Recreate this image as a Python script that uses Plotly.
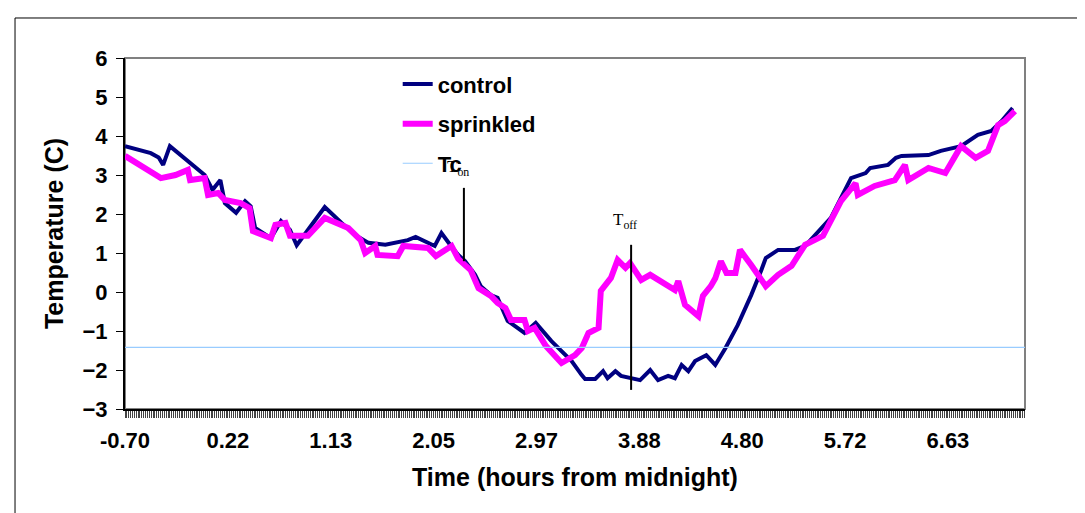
import plotly.graph_objects as go

# ---- data (hours from midnight, temperature C) ----
control_h = [-0.70, -0.58, -0.47, -0.40, -0.36, -0.30, -0.17, -0.08, 0.01, 0.08, 0.15, 0.19, 0.29, 0.37,
             0.42, 0.46, 0.60, 0.69, 0.77, 0.83, 0.93, 1.08, 1.23, 1.35, 1.47, 1.62, 1.82, 1.89, 2.06,
             2.12, 2.20, 2.27, 2.33, 2.42, 2.47, 2.56, 2.62, 2.71, 2.86, 2.96, 3.10, 3.19, 3.28, 3.37,
             3.40, 3.49, 3.56, 3.60, 3.67, 3.72, 3.81, 3.89, 3.98, 4.05, 4.14, 4.20, 4.26, 4.32, 4.38,
             4.48, 4.56, 4.65, 4.76, 4.83, 4.88, 4.97, 5.01, 5.12, 5.27, 5.36, 5.48, 5.59, 5.77, 5.90,
             5.94, 6.10, 6.17, 6.22, 6.46, 6.57, 6.75, 6.90, 7.02, 7.11, 7.21]
control_t = [3.74, 3.64, 3.56, 3.45, 3.26, 3.74, 3.44, 3.23, 3.00, 2.62, 2.87, 2.28, 2.03, 2.33,
             2.20, 1.64, 1.38, 1.82, 1.59, 1.20, 1.59, 2.18, 1.77, 1.46, 1.26, 1.21, 1.33, 1.41, 1.18,
             1.51, 1.20, 0.95, 0.79, 0.44, 0.15, -0.08, -0.15, -0.74, -1.05, -0.79, -1.26, -1.51, -1.77, -2.13,
             -2.23, -2.23, -2.03, -2.21, -2.03, -2.15, -2.21, -2.26, -2.00, -2.26, -2.15, -2.21, -1.87, -2.03, -1.77,
             -1.62, -1.87, -1.44, -0.85, -0.41, -0.08, 0.56, 0.87, 1.08, 1.08, 1.18, 1.56, 1.90, 2.92, 3.05,
             3.18, 3.26, 3.44, 3.49, 3.51, 3.62, 3.74, 4.03, 4.13, 4.38, 4.72]

sprinkled_h = [-0.70, -0.56, -0.38, -0.25, -0.14, -0.12, 0.01, 0.04, 0.13, 0.19, 0.33, 0.41, 0.44, 0.60,
               0.64, 0.73, 0.77, 0.93, 1.02, 1.08, 1.29, 1.40, 1.44, 1.53, 1.55, 1.73, 1.78, 2.00, 2.07,
               2.21, 2.27, 2.38, 2.45, 2.56, 2.62, 2.69, 2.74, 2.86, 2.89, 2.95, 3.05, 3.19, 3.31, 3.37,
               3.43, 3.52, 3.54, 3.63, 3.69, 3.76, 3.80, 3.90, 3.98, 4.11, 4.20, 4.23, 4.29, 4.41, 4.45,
               4.52, 4.56, 4.61, 4.66, 4.74, 4.78, 4.88, 5.01, 5.12, 5.18, 5.24, 5.36, 5.52, 5.68, 5.81,
               5.83, 5.98, 6.16, 6.25, 6.28, 6.46, 6.61, 6.75, 6.88, 6.99, 7.08, 7.14, 7.23]
sprinkled_t = [3.49, 3.26, 2.92, 3.00, 3.13, 2.87, 2.92, 2.49, 2.54, 2.36, 2.28, 2.15, 1.56, 1.38,
               1.72, 1.77, 1.44, 1.44, 1.72, 1.90, 1.64, 1.33, 1.00, 1.18, 0.95, 0.92, 1.18, 1.13, 0.92,
               1.18, 0.85, 0.56, 0.10, -0.10, -0.28, -0.41, -0.72, -0.72, -1.00, -0.92, -1.38, -1.82, -1.62, -1.44,
               -1.05, -0.92, 0.03, 0.36, 0.82, 0.62, 0.74, 0.31, 0.44, 0.23, 0.05, 0.28, -0.33, -0.62, -0.10,
               0.15, 0.35, 0.79, 0.49, 0.49, 1.08, 0.69, 0.15, 0.44, 0.56, 0.67, 1.21, 1.44, 2.33, 2.79,
               2.49, 2.72, 2.87, 3.26, 2.87, 3.18, 3.05, 3.74, 3.44, 3.62, 4.28, 4.38, 4.64]

tc_h = [-0.70, 7.32]
tc_t = [-1.42, -1.42]

ton_h = 2.32
ton_span = [0.79, 2.67]
toff_h = 3.81
toff_span = [-2.51, 1.21]

tick_vals = [-0.70, 0.2167, 1.1333, 2.05, 2.9667, 3.8833, 4.80, 5.7167, 6.6333]
tick_text = ["-0.70", "0.22", "1.13", "2.05", "2.97", "3.88", "4.80", "5.72", "6.63"]

FONT = "Liberation Sans, Arial, sans-serif"
SERIF = "Liberation Serif, Times New Roman, serif"

fig = go.Figure()
fig.add_trace(go.Scatter(x=control_h, y=control_t, mode="lines", name="control",
                         line=dict(color="#000080", width=4), legendgroup="a"))
fig.add_trace(go.Scatter(x=sprinkled_h, y=sprinkled_t, mode="lines", name="sprinkled",
                         line=dict(color="#FF00FF", width=6), legendgroup="b"))
fig.add_trace(go.Scatter(x=tc_h, y=tc_t, mode="lines", name="Tc",
                         line=dict(color="#99CCFF", width=1.2), legendgroup="c"))
fig.add_trace(go.Scatter(x=[ton_h, ton_h], y=ton_span, mode="lines", showlegend=False,
                         line=dict(color="black", width=2)))
fig.add_trace(go.Scatter(x=[toff_h, toff_h], y=toff_span, mode="lines", showlegend=False,
                         line=dict(color="black", width=2)))

fig.add_annotation(x=2.27, y=3.18, text="T<sub>on</sub>", showarrow=False,
                   font=dict(family=SERIF, size=17, color="black"))
fig.add_annotation(x=3.756, y=1.82, text="T<sub>off</sub>", showarrow=False,
                   font=dict(family=SERIF, size=17, color="black"))

# plot-area frame (grey) and outer chart border
fig.add_shape(type="rect", xref="paper", yref="paper", x0=0, x1=1, y0=0, y1=1,
              line=dict(color="#808080", width=2), layer="below")
fig.add_shape(type="rect", xref="paper", yref="paper", x0=-0.1222, x1=1.0678, y0=-0.3105, y1=1.114,
              line=dict(color="black", width=1), layer="below")

fig.update_layout(
    width=1085, height=513,
    margin=dict(l=117, r=68, t=50, b=112),
    paper_bgcolor="white", plot_bgcolor="white",
    font=dict(family=FONT, color="black"),
    showlegend=True,
    legend=dict(x=0.303, y=0.985, xanchor="left", yanchor="top", bgcolor="rgba(0,0,0,0)",
                font=dict(family=FONT, size=22, color="black", weight="bold"),
                tracegroupgap=8, borderwidth=0),
    xaxis=dict(range=[-0.70, 7.32], tickmode="array", tickvals=tick_vals, ticktext=tick_text,
               showgrid=False, zeroline=False, showline=True, linecolor="black", linewidth=2,
               ticks="outside", ticklen=7, tickcolor="#444", tickwidth=1,
               minor=dict(ticks="outside", ticklen=7, dtick=1/60, tick0=-0.70, tickcolor="#444", tickwidth=1),
               tickfont=dict(family=FONT, size=22, color="black", weight="bold"),
               ticklabelstandoff=4,
               title=dict(text="Time (hours from midnight)", standoff=16,
                          font=dict(family=FONT, size=25, color="black", weight="bold"))),
    yaxis=dict(range=[-3, 6], dtick=1, showgrid=False, zeroline=False, showline=True,
               linecolor="black", linewidth=2, ticks="outside", ticklen=7, tickcolor="black",
               tickfont=dict(family=FONT, size=22, color="black", weight="bold"),
               ticklabelstandoff=4,
               title=dict(text="Temperature (C)", standoff=12,
                          font=dict(family=FONT, size=25, color="black", weight="bold"))),
)

fig.write_html("out.html")
